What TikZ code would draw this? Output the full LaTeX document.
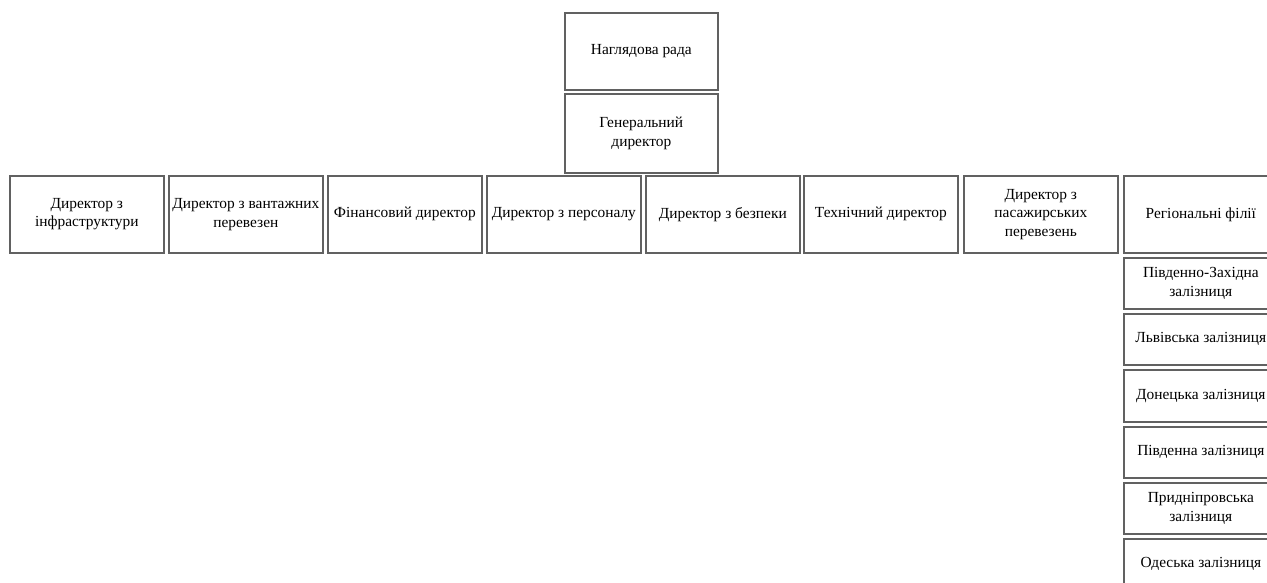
\documentclass[tikz,border=0pt]{standalone}
\usepackage{fontspec}
\setmainfont{Liberation Serif}
\begin{document}
\begin{tikzpicture}[x=1pt,y=-1pt,
  box/.style={draw=black!62, line width=1.7pt, anchor=north west, inner sep=0pt,
    align=center, font=\fontsize{15.4}{18.5}\selectfont, text=black},
  rowbox/.style={box, minimum width=154pt, minimum height=77pt},
  subbox/.style={box, minimum width=154pt, minimum height=51pt}]
\fill[white] (0,0) rectangle (1267,583);
\clip (0,0) rectangle (1267,583);
\node[box, minimum width=153pt, minimum height=77pt] (nr) at (564,12) {Наглядова рада};
\node[box, minimum width=153pt, minimum height=79pt] (gd) at (564,93) {Генеральний\\директор};
\node[rowbox] (d1) at (9,175) {Директор з\\інфраструктури};
\node[rowbox] (d2) at (168,175) {Директор з вантажних\\перевезен};
\node[rowbox] (d3) at (327,175) {Фінансовий директор};
\node[rowbox] (d4) at (486,175) {Директор з персоналу};
\node[rowbox] (d5) at (645,175) {Директор з безпеки};
\node[rowbox] (d6) at (803,175) {Технічний директор};
\node[rowbox] (d7) at (963,175) {Директор з\\пасажирських\\перевезень};
\node[rowbox] (d8) at (1123,175) {Регіональні філії};
\node[subbox] (r1) at (1123,257) {Південно-Західна\\залізниця};
\node[subbox] (r2) at (1123,313) {Львівська залізниця};
\node[subbox, minimum height=52pt] (r3) at (1123,369) {Донецька залізниця};
\node[subbox] (r4) at (1123,426) {Південна залізниця};
\node[subbox] (r5) at (1123,482) {Придніпровська\\залізниця};
\node[subbox] (r6) at (1123,538) {Одеська залізниця};
\end{tikzpicture}
\end{document}
